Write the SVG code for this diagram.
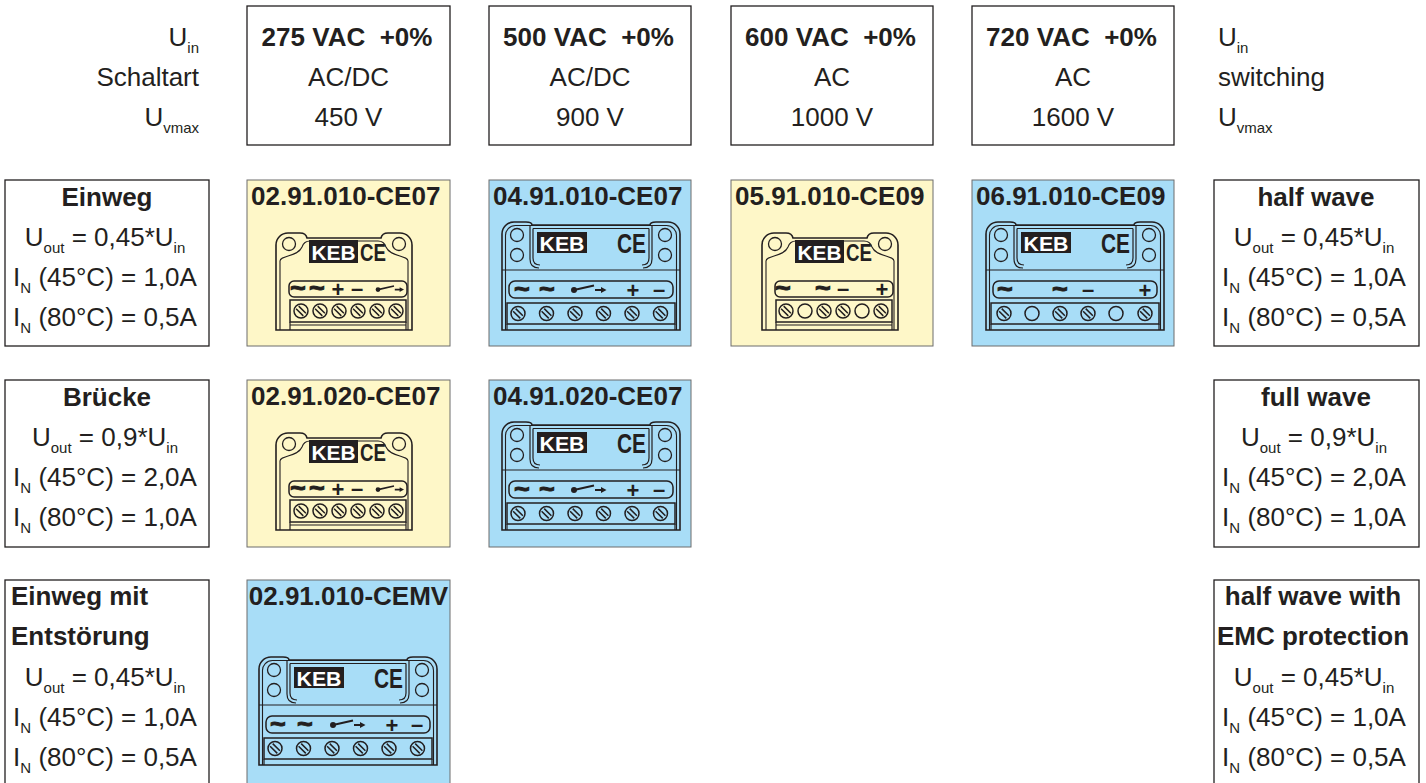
<svg xmlns="http://www.w3.org/2000/svg" xmlns:xlink="http://www.w3.org/1999/xlink" width="1426" height="783" viewBox="0 0 1426 783">
<style>
.t{font-family:"Liberation Sans",Arial,sans-serif;font-size:26px;fill:#231f20}
.b{font-weight:bold}
.s{font-size:15px}
.box{fill:#fff;stroke:#231f20;stroke-width:1.3}
.yel{fill:#fef7c8;stroke:#6d6d6d;stroke-width:1}
.blu{fill:#a8ddf7;stroke:#6d6d6d;stroke-width:1}
.ln{fill:none;stroke:#231f20}
.lab{font-family:"Liberation Sans",Arial,sans-serif;font-weight:bold;font-size:22px;fill:#231f20;text-anchor:middle}
.til{font-size:27px;stroke:#231f20;stroke-width:0.9}
.keb{font-family:"Liberation Sans",Arial,sans-serif;font-weight:bold;fill:#fff;text-anchor:middle}
.ce{font-family:"Liberation Sans",Arial,sans-serif;font-weight:bold;fill:#231f20}
</style>
<defs>
<g id="scr" class="ln" stroke-width="1.5"><circle r="7"/><path d="M-4.9,-2.3 L2.3,4.9 M-2.3,-4.9 L4.9,2.3"/></g>
<g id="hol" class="ln" stroke-width="1.5"><circle r="7"/></g>
<g id="sw" fill="#231f20" stroke="#231f20" stroke-width="2"><circle cx="0" cy="2" r="2"/><path d="M0,2 L20,-2.5 M21,2 H28" fill="none"/><path d="M27,-1 L32.5,2 L27,5 Z" stroke="none"/></g>
<g id="sb">
<path class="ln" stroke-width="1.6" d="M0,97 V12 A12,12 0 0 1 12,0 H24 Q30,0 31,5 H105 Q106,0 112,0 H124 A12,12 0 0 1 136,12 V97 Z"/>
<path class="ln" stroke-width="1.1" d="M4,97 V28 C4,22 22,24 26,14 Q28,8 34,8 H102 Q108,8 110,14 C114,24 132,22 132,28 V97"/>
<circle class="ln" stroke-width="1.3" cx="13" cy="11" r="6.5"/>
<circle class="ln" stroke-width="1.3" cx="123" cy="11" r="6.5"/>
<rect x="33" y="7" width="49" height="23" fill="#231f20"/>
<text class="keb" x="57.5" y="26.5" font-size="21" textLength="44" lengthAdjust="spacingAndGlyphs">KEB</text>
<text class="ce" x="84" y="28" font-size="24" textLength="26" lengthAdjust="spacingAndGlyphs">CE</text>
<rect class="ln" stroke-width="1.5" x="13" y="48" width="118" height="16" rx="5"/>
<rect class="ln" stroke-width="1.5" x="14" y="67" width="116" height="22"/>
<path class="ln" stroke-width="1.2" d="M14,89 V97 M130,89 V97 M14,92 H130"/>
</g>
<g id="bb">
<path class="ln" stroke-width="1.6" d="M0,108 V12 A12,12 0 0 1 12,0 H24 Q30,0 30,3 H148 Q148,0 154,0 H166 A12,12 0 0 1 178,12 V108 Z"/>
<path class="ln" stroke-width="1.1" d="M3.5,108 V14 A10,10 0 0 1 13.5,3.5 H164.5 A10,10 0 0 1 174.5,14 V108"/>
<path class="ln" stroke-width="1.2" d="M28,4 V37 Q28,46 37,46 M150,4 V37 Q150,46 141,46 M31,6.5 H147 M31,6.5 V36 Q31,43 38,43 M147,6.5 V36 Q147,43 140,43 M0,48 H178"/>
<circle class="ln" stroke-width="1.3" cx="15" cy="13" r="6.5"/>
<circle class="ln" stroke-width="1.3" cx="15" cy="33" r="6.5"/>
<circle class="ln" stroke-width="1.3" cx="163" cy="13" r="6.5"/>
<circle class="ln" stroke-width="1.3" cx="163" cy="33" r="6.5"/>
<rect x="35" y="10" width="50" height="21" fill="#231f20"/>
<text class="keb" x="60" y="28.5" font-size="21" textLength="45" lengthAdjust="spacingAndGlyphs">KEB</text>
<text class="ce" x="115" y="31" font-size="27" textLength="29" lengthAdjust="spacingAndGlyphs">CE</text>
<rect class="ln" stroke-width="1.5" x="7" y="59" width="164" height="17" rx="6"/>
<rect class="ln" stroke-width="1.5" x="5" y="81" width="168" height="21"/>
<path class="ln" stroke-width="1.2" d="M5,102 V108 M173,102 V108"/>
</g>
</defs>

<g id="hdr-left">
<text class="t" x="199" y="46" text-anchor="end">U<tspan class="s" dy="7">in</tspan></text>
<text class="t" x="199" y="86" text-anchor="end">Schaltart</text>
<text class="t" x="199" y="126" text-anchor="end">U<tspan class="s" dy="7">vmax</tspan></text>
</g>
<g id="hdr-right">
<text class="t" x="1218" y="46">U<tspan class="s" dy="7">in</tspan></text>
<text class="t" x="1218" y="86">switching</text>
<text class="t" x="1218" y="126">U<tspan class="s" dy="7">vmax</tspan></text>
</g>

<g id="h275">
<rect class="box" x="247" y="6" width="203" height="139"/>
<text class="t b" x="347" y="46" text-anchor="middle">275 VAC&#160; +0%</text>
<text class="t" x="348.5" y="86" text-anchor="middle">AC/DC</text>
<text class="t" x="348.5" y="126" text-anchor="middle">450 V</text>
</g>
<g id="h500">
<rect class="box" x="489" y="6" width="202" height="139"/>
<text class="t b" x="588.5" y="46" text-anchor="middle">500 VAC&#160; +0%</text>
<text class="t" x="590" y="86" text-anchor="middle">AC/DC</text>
<text class="t" x="590" y="126" text-anchor="middle">900 V</text>
</g>
<g id="h600">
<rect class="box" x="731" y="6" width="202" height="139"/>
<text class="t b" x="830.5" y="46" text-anchor="middle">600 VAC&#160; +0%</text>
<text class="t" x="832" y="86" text-anchor="middle">AC</text>
<text class="t" x="832" y="126" text-anchor="middle">1000 V</text>
</g>
<g id="h720">
<rect class="box" x="972" y="6" width="202" height="139"/>
<text class="t b" x="1071.5" y="46" text-anchor="middle">720 VAC&#160; +0%</text>
<text class="t" x="1073" y="86" text-anchor="middle">AC</text>
<text class="t" x="1073" y="126" text-anchor="middle">1600 V</text>
</g>

<g id="einweg">
<rect class="box" x="5" y="180" width="204" height="166"/>
<text class="t b" x="107" y="206" text-anchor="middle">Einweg</text>
<text class="t" x="105" y="246" text-anchor="middle">U<tspan class="s" dy="7">out</tspan><tspan dy="-7"> = 0,45*U</tspan><tspan class="s" dy="7">in</tspan></text>
<text class="t" x="105" y="286" text-anchor="middle">I<tspan class="s" dy="7">N</tspan><tspan dy="-7"> (45°C) = 1,0A</tspan></text>
<text class="t" x="105" y="326" text-anchor="middle">I<tspan class="s" dy="7">N</tspan><tspan dy="-7"> (80°C) = 0,5A</tspan></text>
</g>
<g id="bruecke">
<rect class="box" x="5" y="380" width="204" height="167"/>
<text class="t b" x="107" y="406" text-anchor="middle">Brücke</text>
<text class="t" x="105" y="446" text-anchor="middle">U<tspan class="s" dy="7">out</tspan><tspan dy="-7"> = 0,9*U</tspan><tspan class="s" dy="7">in</tspan></text>
<text class="t" x="105" y="486" text-anchor="middle">I<tspan class="s" dy="7">N</tspan><tspan dy="-7"> (45°C) = 2,0A</tspan></text>
<text class="t" x="105" y="526" text-anchor="middle">I<tspan class="s" dy="7">N</tspan><tspan dy="-7"> (80°C) = 1,0A</tspan></text>
</g>
<g id="einweg-emv">
<rect class="box" x="5" y="580" width="204" height="215"/>
<text class="t b" x="11" y="605">Einweg mit</text>
<text class="t b" x="11" y="645">Entstörung</text>
<text class="t" x="105" y="686" text-anchor="middle">U<tspan class="s" dy="7">out</tspan><tspan dy="-7"> = 0,45*U</tspan><tspan class="s" dy="7">in</tspan></text>
<text class="t" x="105" y="726" text-anchor="middle">I<tspan class="s" dy="7">N</tspan><tspan dy="-7"> (45°C) = 1,0A</tspan></text>
<text class="t" x="105" y="766" text-anchor="middle">I<tspan class="s" dy="7">N</tspan><tspan dy="-7"> (80°C) = 0,5A</tspan></text>
</g>

<g id="halfwave">
<rect class="box" x="1214" y="180" width="205" height="166"/>
<text class="t b" x="1316" y="206" text-anchor="middle">half wave</text>
<text class="t" x="1314" y="246" text-anchor="middle">U<tspan class="s" dy="7">out</tspan><tspan dy="-7"> = 0,45*U</tspan><tspan class="s" dy="7">in</tspan></text>
<text class="t" x="1314" y="286" text-anchor="middle">I<tspan class="s" dy="7">N</tspan><tspan dy="-7"> (45°C) = 1,0A</tspan></text>
<text class="t" x="1314" y="326" text-anchor="middle">I<tspan class="s" dy="7">N</tspan><tspan dy="-7"> (80°C) = 0,5A</tspan></text>
</g>
<g id="fullwave">
<rect class="box" x="1214" y="380" width="205" height="167"/>
<text class="t b" x="1316" y="406" text-anchor="middle">full wave</text>
<text class="t" x="1314" y="446" text-anchor="middle">U<tspan class="s" dy="7">out</tspan><tspan dy="-7"> = 0,9*U</tspan><tspan class="s" dy="7">in</tspan></text>
<text class="t" x="1314" y="486" text-anchor="middle">I<tspan class="s" dy="7">N</tspan><tspan dy="-7"> (45°C) = 2,0A</tspan></text>
<text class="t" x="1314" y="526" text-anchor="middle">I<tspan class="s" dy="7">N</tspan><tspan dy="-7"> (80°C) = 1,0A</tspan></text>
</g>
<g id="halfwave-emc">
<rect class="box" x="1214" y="580" width="205" height="215"/>
<text class="t b" x="1313" y="605" text-anchor="middle">half wave with</text>
<text class="t b" x="1313" y="645" text-anchor="middle">EMC protection</text>
<text class="t" x="1314" y="686" text-anchor="middle">U<tspan class="s" dy="7">out</tspan><tspan dy="-7"> = 0,45*U</tspan><tspan class="s" dy="7">in</tspan></text>
<text class="t" x="1314" y="726" text-anchor="middle">I<tspan class="s" dy="7">N</tspan><tspan dy="-7"> (45°C) = 1,0A</tspan></text>
<text class="t" x="1314" y="766" text-anchor="middle">I<tspan class="s" dy="7">N</tspan><tspan dy="-7"> (80°C) = 0,5A</tspan></text>
</g>

<g id="p0291010CE07">
<rect class="yel" x="247" y="180" width="203" height="166"/>
<text class="t b" x="251" y="205">02.91.010-CE07</text>
<g transform="translate(276,233)">
<use xlink:href="#sb"/>
<text class="lab til" x="22" y="64">~</text><text class="lab til" x="41" y="64">~</text><text class="lab" x="62" y="64">+</text><text class="lab" x="81" y="63">–</text>
<use xlink:href="#sw" transform="translate(102,55) scale(0.8)"/>
<use xlink:href="#scr" x="25" y="78"/><use xlink:href="#scr" x="44" y="78"/><use xlink:href="#scr" x="63" y="78"/><use xlink:href="#scr" x="82" y="78"/><use xlink:href="#scr" x="101" y="78"/><use xlink:href="#scr" x="120" y="78"/>
</g>
</g>
<g id="p0491010CE07">
<rect class="blu" x="489" y="180" width="202" height="166"/>
<text class="t b" x="493" y="205">04.91.010-CE07</text>
<g transform="translate(502,222)">
<use xlink:href="#bb"/>
<text class="lab til" x="20" y="76">~</text><text class="lab til" x="45" y="76">~</text><text class="lab" x="131" y="76">+</text><text class="lab" x="157" y="75">–</text>
<use xlink:href="#sw" transform="translate(72,66)"/>
<use xlink:href="#scr" x="16" y="91.5"/><use xlink:href="#scr" x="44.5" y="91.5"/><use xlink:href="#scr" x="73" y="91.5"/><use xlink:href="#scr" x="101.5" y="91.5"/><use xlink:href="#scr" x="130" y="91.5"/><use xlink:href="#scr" x="158.5" y="91.5"/>
</g>
</g>
<g id="p0591010CE09">
<rect class="yel" x="731" y="180" width="202" height="166"/>
<text class="t b" x="735" y="205">05.91.010-CE09</text>
<g transform="translate(762,233)">
<use xlink:href="#sb"/>
<text class="lab til" x="21" y="64">~</text><text class="lab til" x="61" y="64">~</text><text class="lab" x="81" y="63">–</text><text class="lab" x="120" y="64">+</text>
<use xlink:href="#scr" x="24" y="78"/><use xlink:href="#hol" x="43" y="78"/><use xlink:href="#scr" x="62" y="78"/><use xlink:href="#scr" x="81" y="78"/><use xlink:href="#hol" x="100" y="78"/><use xlink:href="#scr" x="119" y="78"/>
</g>
</g>
<g id="p0691010CE09">
<rect class="blu" x="972" y="180" width="202" height="166"/>
<text class="t b" x="976" y="205">06.91.010-CE09</text>
<g transform="translate(986,222)">
<use xlink:href="#bb"/>
<text class="lab til" x="19" y="76">~</text><text class="lab til" x="74" y="76">~</text><text class="lab" x="102" y="75">–</text><text class="lab" x="159" y="76">+</text>
<use xlink:href="#scr" x="18" y="91.5"/><use xlink:href="#hol" x="46" y="91.5"/><use xlink:href="#scr" x="74" y="91.5"/><use xlink:href="#scr" x="102" y="91.5"/><use xlink:href="#hol" x="130" y="91.5"/><use xlink:href="#scr" x="159" y="91.5"/>
</g>
</g>
<g id="p0291020CE07">
<rect class="yel" x="247" y="380" width="203" height="167"/>
<text class="t b" x="251" y="405">02.91.020-CE07</text>
<g transform="translate(276,433)">
<use xlink:href="#sb"/>
<text class="lab til" x="22" y="64">~</text><text class="lab til" x="41" y="64">~</text><text class="lab" x="62" y="64">+</text><text class="lab" x="81" y="63">–</text>
<use xlink:href="#sw" transform="translate(102,55) scale(0.8)"/>
<use xlink:href="#scr" x="25" y="78"/><use xlink:href="#scr" x="44" y="78"/><use xlink:href="#scr" x="63" y="78"/><use xlink:href="#scr" x="82" y="78"/><use xlink:href="#scr" x="101" y="78"/><use xlink:href="#scr" x="120" y="78"/>
</g>
</g>
<g id="p0491020CE07">
<rect class="blu" x="489" y="380" width="202" height="167"/>
<text class="t b" x="493" y="405">04.91.020-CE07</text>
<g transform="translate(502,422)">
<use xlink:href="#bb"/>
<text class="lab til" x="20" y="76">~</text><text class="lab til" x="45" y="76">~</text><text class="lab" x="131" y="76">+</text><text class="lab" x="157" y="75">–</text>
<use xlink:href="#sw" transform="translate(72,66)"/>
<use xlink:href="#scr" x="16" y="91.5"/><use xlink:href="#scr" x="44.5" y="91.5"/><use xlink:href="#scr" x="73" y="91.5"/><use xlink:href="#scr" x="101.5" y="91.5"/><use xlink:href="#scr" x="130" y="91.5"/><use xlink:href="#scr" x="158.5" y="91.5"/>
</g>
</g>
<g id="p0291010CEMV">
<rect class="blu" x="247" y="580" width="203" height="215"/>
<text class="t b" x="348.5" y="605" text-anchor="middle">02.91.010-CEMV</text>
<g transform="translate(259,657)">
<use xlink:href="#bb"/>
<text class="lab til" x="19" y="76">~</text><text class="lab til" x="46" y="76">~</text><text class="lab" x="133" y="76">+</text><text class="lab" x="158" y="75">–</text>
<use xlink:href="#sw" transform="translate(74,66)"/>
<use xlink:href="#scr" x="16" y="91.5"/><use xlink:href="#scr" x="44.5" y="91.5"/><use xlink:href="#scr" x="73" y="91.5"/><use xlink:href="#scr" x="101.5" y="91.5"/><use xlink:href="#scr" x="130" y="91.5"/><use xlink:href="#scr" x="158.5" y="91.5"/>
</g>
</g>
<g id="connectors"/>
</svg>
